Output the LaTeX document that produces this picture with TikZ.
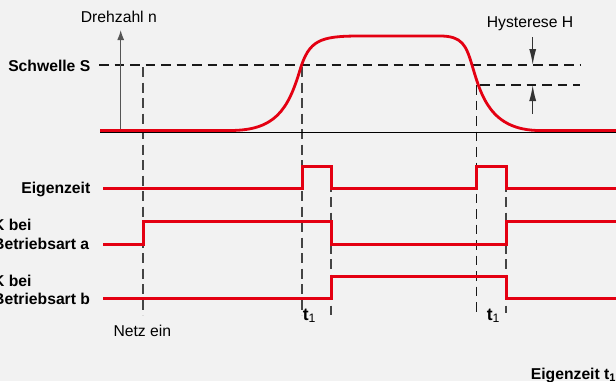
\documentclass[tikz,border=0pt]{standalone}
\usepackage{fontspec}
\setmainfont{Liberation Sans}
\usetikzlibrary{arrows.meta}
\definecolor{bgc}{HTML}{F2F2F2}
\definecolor{sigred}{RGB}{228,0,18}
\definecolor{axisc}{HTML}{555555}
\definecolor{vdash}{HTML}{444444}
\begin{document}
\begin{tikzpicture}[x=1pt,y=-1pt,
  sigline/.style={draw=sigred, line width=3pt, line join=miter},
  dshline/.style={draw=black!90, line width=1.1pt, dash pattern=on 9.5pt off 6pt},
  vdshline/.style={draw=vdash, line width=1.4pt, dash pattern=on 10pt off 5.5pt},
  lbl/.style={font=\fontsize{15.7}{18}\selectfont, inner sep=0pt},
  blbl/.style={font=\fontsize{15.7}{18}\selectfont\bfseries, inner sep=0pt},
  tlbl/.style={font=\fontsize{17.5}{20}\selectfont, inner sep=0pt},
  arr/.style={draw=axisc, line width=1.3pt},
]
\fill[bgc] (0,0) rectangle (616,381);
\useasboundingbox (0,0) rectangle (616,381);

% threshold lines
\coordinate (sL) at (99,65);
\coordinate (sR) at (580,65);
\coordinate (hL) at (480,85);
\coordinate (hR) at (580,85);
\draw[dshline] (sL) -- (sR);
\draw[dshline] (hL) -- (hR);

% vertical dashed markers
\draw[vdshline] (143,67) -- (143,315);
\draw[vdshline] (302,67) -- (302,315);
\draw[vdshline] (331,166) -- (331,315);
\draw[dshline] (476.7,85) -- (476.7,315);
\draw[vdshline] (506,166) -- (506,313);

% baseline
\draw[black, line width=1.2pt] (100,132.5) -- (616,132.5);

% axis
\coordinate (ax0) at (120.7,132);
\coordinate (ax1) at (120.7,30);
\draw[arr, -{Latex[length=10pt,width=7pt]}] (ax0) -- (ax1);

% hysteresis arrows
\coordinate (h1a) at (532.7,37);
\coordinate (h1b) at (532.7,65);
\coordinate (h2a) at (532.7,114);
\coordinate (h2b) at (532.7,85);
\draw[arr, draw=black!80, -{Latex[length=16pt,width=7pt]}] (h1a) -- (h1b);
\draw[arr, draw=black!80, -{Latex[length=16pt,width=7pt]}] (h2a) -- (h2b);

% speed curve
\draw[sigline, line width=2.8pt] (100,130.5) -- (230,130.5)
  .. controls (275,130.5) and (288,110) .. (300,70)
  .. controls (309,40) and (320,36) .. (360,36)
  -- (440,36)
  .. controls (462,36) and (466,45) .. (472,65)
  .. controls (481,95) and (490,130.5) .. (540,130.5)
  -- (616,130.5);

% Eigenzeit
\draw[sigline] (103,188) -- (302,188) -- (302,166) -- (331,166) -- (331,188)
  -- (476.7,188) -- (476.7,166) -- (506,166) -- (506,188) -- (616,188);
% Betriebsart a
\draw[sigline] (103,244) -- (143,244) -- (143,221) -- (331,221) -- (331,244)
  -- (506,244) -- (506,221) -- (616,221);
% Betriebsart b
\draw[sigline] (103,298.5) -- (331,298.5) -- (331,276) -- (506,276) -- (506,298.5) -- (616,298.5);

% labels
\node[lbl, anchor=base west] (drehzahl) at (80.7,22) {Drehzahl n};
\node[lbl, anchor=base west] (hyst) at (486.7,27.3) {Hysterese H};
\node[blbl, anchor=base east] (schwelle) at (90.5,71.3) {Schwelle S};
\node[blbl, anchor=base east] (eigen) at (90.5,193.5) {Eigenzeit};
\node[blbl, anchor=base west] (ka1) at (-7,230.7) {K bei};
\node[blbl, anchor=base west] (ka2) at (-7,249.3) {Betriebsart a};
\node[blbl, anchor=base west] (kb1) at (-7,286) {K bei};
\node[blbl, anchor=base west] (kb2) at (-7,304.7) {Betriebsart b};
\node[lbl, anchor=base west] (netz) at (113.3,336) {Netz ein};
\node[tlbl, anchor=base west] (tA) at (302.7,320) {\textbf{t}\textsubscript{1}};
\node[tlbl, anchor=base west] (tB) at (486.7,320) {\textbf{t}\textsubscript{1}};
\node[blbl, anchor=base west] (eigt) at (530.7,379.3) {Eigenzeit t\textsubscript{1}};
\end{tikzpicture}
\end{document}
